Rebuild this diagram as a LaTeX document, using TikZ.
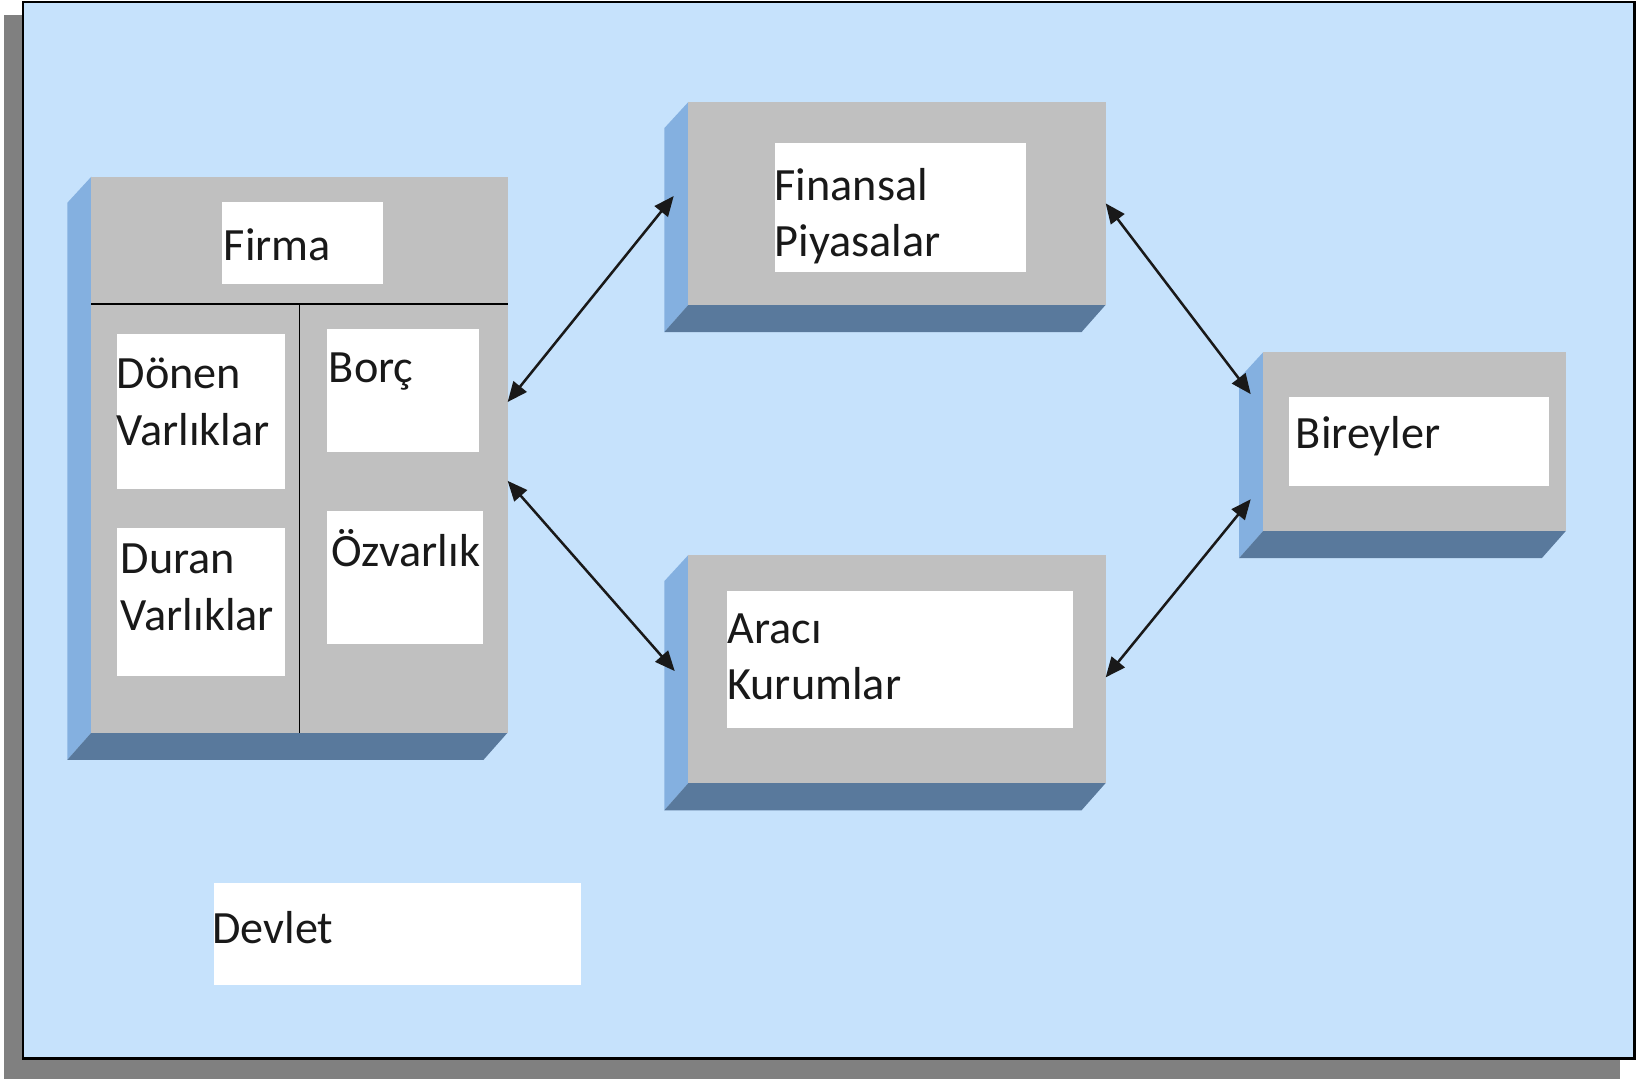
\documentclass[tikz,border=0pt]{standalone}
\usepackage{fontspec}
\setmainfont{Carlito}
\usetikzlibrary{arrows.meta,calc,fit}
\definecolor{bgblue}{RGB}{198,226,252}
\definecolor{shadowgray}{RGB}{128,128,128}
\definecolor{facegray}{RGB}{192,192,192}
\definecolor{sideblue}{RGB}{132,176,224}
\definecolor{botblue}{RGB}{89,121,156}
\newcommand\tdblock[5]{%
  \fill[sideblue] (#2,#3) -- (#2-23,#3+25) -- (#2-23,#5+26) -- (#2,#5) -- cycle;
  \fill[botblue] (#2,#5) -- (#4,#5) -- (#4-23,#5+26) -- (#2-23,#5+26) -- cycle;
  \node[face, fit={(#2,#3) (#4,#5)}] (#1) {};
}
\begin{document}
\begin{tikzpicture}[x=1pt,y=-1pt,
  face/.style={fill=facegray, inner sep=0pt, outer sep=0pt},
  wbox/.style={fill=white, inner sep=0pt, outer sep=0pt},
  txt/.style={inner sep=0pt, outer sep=0pt, align=left, font=\fontsize{44}{54}\selectfont, text=black!90},
  dbl/.style={line width=2.4pt, draw=black!90, {Triangle[length=19pt,width=16pt]}-{Triangle[length=19pt,width=16pt]}}]
\useasboundingbox (0,0) rectangle (1568,1027);
\fill[white] (0,0) rectangle (1568,1027);
% frame with shadow
\fill[shadowgray] (4,14) rectangle (1541,1027);
\filldraw[fill=bgblue, draw=black, line width=2.5pt] (22,2) rectangle (1555,1007);
% blocks
\tdblock{fir}{87}{168}{483}{697}
\tdblock{fin}{655}{97}{1052}{290}
\tdblock{bir}{1202}{335}{1490}{505}
\tdblock{ara}{655}{528}{1052}{745}
% firma dividers
\draw[line width=1.6pt] (fir.west |- 0,289) coordinate (dl) -- (fir.east |- 0,289) coordinate (dr);
\draw[line width=1.6pt] (285,289) coordinate (vt) -- (vt |- fir.south) coordinate (vb);
% white label boxes
\node[wbox, fit={(211,192) (364,270)}] (firbox) {};
\node[wbox, fit={(111,318) (271,465)}] (donbox) {};
\node[wbox, fit={(111,502) (271,643)}] (durbox) {};
\node[wbox, fit={(311,313) (456,430)}] (borbox) {};
\node[wbox, fit={(311,486) (460,613)}] (ozvbox) {};
\node[wbox, fit={(737,136) (976,259)}] (finbox) {};
\node[wbox, fit={(1226,378) (1474,462)}] (birbox) {};
\node[wbox, fit={(692,562) (1021,693)}] (arabox) {};
\node[wbox, fit={(204,840) (553,937)}] (devbox) {};
% texts
\node[txt, anchor=base west] (firtxt) at (213,248) {Firma};
\node[txt, anchor=north west] (fintxt) at (737,152.7) {\strut Finansal\\\strut Piyasalar};
\node[txt, anchor=north west] (dontxt) at (111,332) {\strut Dönen\\\strut Varlıklar};
\node[txt, anchor=north west] (durtxt) at (115,508) {\strut Duran\\\strut Varlıklar};
\node[txt, anchor=base west] (bortxt) at (313,364) {Borç};
\node[txt, anchor=base west] (ozvtxt) at (315,539) {Özvarlık};
\node[txt, anchor=base west] (birtxt) at (1233,427) {Bireyler};
\node[txt, anchor=north west] (aratxt) at (692,574) {\strut Aracı\\\strut Kurumlar};
\node[txt, anchor=base west] (devtxt) at (202,898) {Devlet};
% arrows
\draw[dbl] ($(fir.east)+(0,-50)$) -- ($(fin.west)+(-14,-7)$);
\draw[dbl] ($(fir.east)+(0,25)$) -- ($(ara.west)+(-13,2)$);
\draw[dbl] (fin.east) -- ($(bir.west)+(-12,-45)$);
\draw[dbl] ($(ara.east)+(0,8)$) -- ($(bir.west)+(-12,55)$);
\end{tikzpicture}
\end{document}
